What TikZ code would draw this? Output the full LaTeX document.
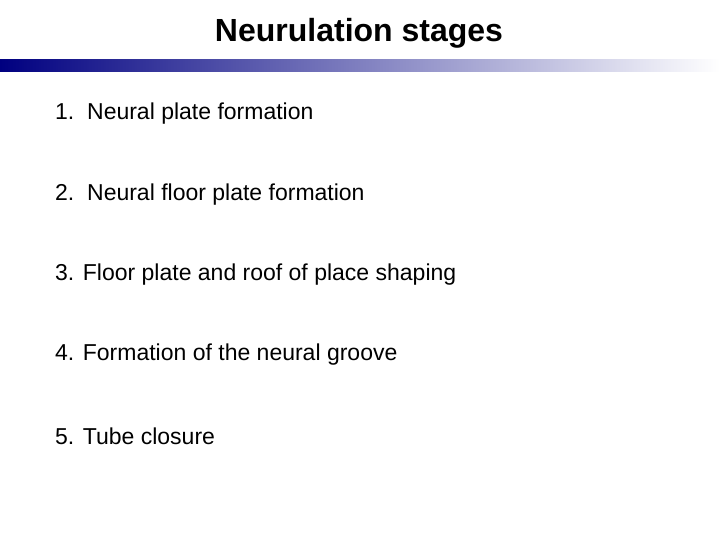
\documentclass[tikz,border=0pt]{standalone}
\usepackage{fontspec}
\setmainfont{Liberation Sans}
\definecolor{barblue}{RGB}{0,0,128}
\tikzset{
  stage/.style={anchor=west, inner sep=0pt, font=\fontsize{23}{27}\selectfont},
}
\begin{document}
\begin{tikzpicture}[x=1pt,y=-1pt]
    \useasboundingbox (0,0) rectangle (720,540);
    % Title
    \node[inner sep=0pt, font=\fontsize{32}{38}\selectfont\bfseries] (title) at (359,33) {Neurulation stages};
    % Bar
    \shade[left color=barblue, right color=white] (0,60) rectangle (720,72);
    % Stages
    \node[stage] (s1) at (55,114) {1.\ \ Neural plate formation};
    \node[stage] (s2) at (55,195) {2.\ \ Neural floor plate formation};
    \node[stage] (s3) at (55,275) {3. Floor plate and roof of place shaping};
    \node[stage] (s4) at (55,355) {4. Formation of the neural groove};
    \node[stage] (s5) at (55,436) {5. Tube closure};
\end{tikzpicture}
\end{document}
